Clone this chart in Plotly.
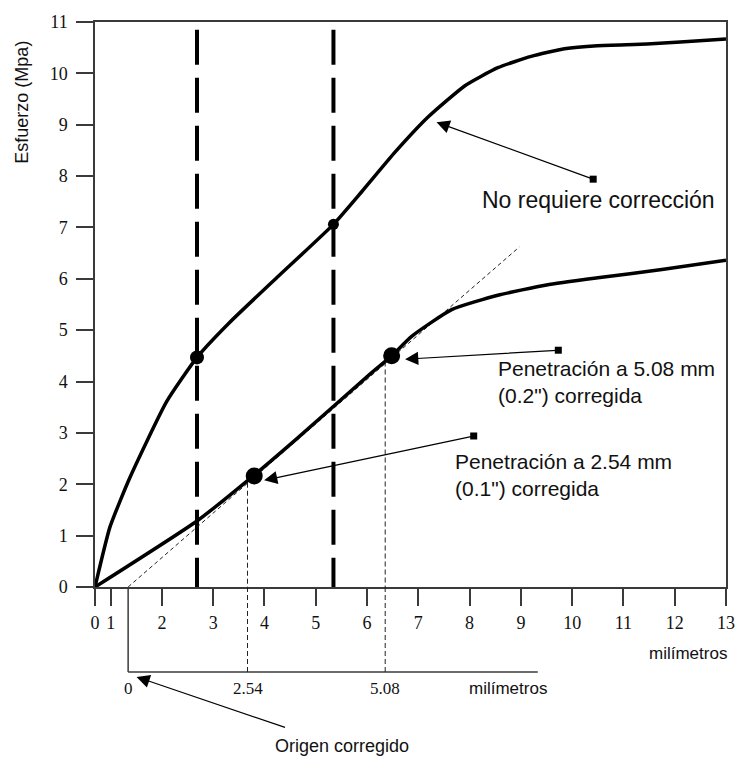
import plotly.graph_objects as go

# Axis positions of the printed tick labels (the "0" sits just left of "1")
x_tick_pos = [0.695, 1, 2, 3, 4, 5, 6, 7, 8, 9, 10, 11, 12, 13]
x_tick_text = ["0", "1", "2", "3", "4", "5", "6", "7", "8", "9", "10", "11", "12", "13"]
y_ticks = list(range(0, 12))

# Curve that needs no correction
upper_x = [0.695, 0.986, 1.374, 2.086, 2.684, 3.31, 4.28, 5.345, 5.90, 6.55,
           7.19, 7.91, 8.55, 9.20, 9.85, 10.49, 11.46, 12.11, 13.0]
upper_y = [0.0, 1.165, 2.127, 3.60, 4.47, 5.14, 6.06, 7.06, 7.70, 8.47,
           9.15, 9.76, 10.11, 10.33, 10.48, 10.54, 10.57, 10.61, 10.67]

# Curve with concave-up start (needs origin correction)
lower_x = [0.695, 2.69, 3.80, 4.61, 6.03, 6.48, 6.87, 7.65, 8.55, 9.5, 10.5, 11.75, 13.0]
lower_y = [0.0, 1.29, 2.18, 2.87, 4.12, 4.50, 4.88, 5.40, 5.68, 5.88, 6.02, 6.18, 6.36]

# Highlighted points on the curves
point_x = [2.684, 5.345, 3.80, 6.48]
point_y = [4.47, 7.06, 2.16, 4.50]

# Tangent through the straight part of the lower curve
tangent_x = [1.341, 8.97]
tangent_y = [0.0, 6.62]

# Standard penetrations (2.54 mm and 5.08 mm) on the original axis
std_pen_x = [2.684, 5.345]
std_top = 10.85

# Corrected axis
corr_origin = 1.341
corr_end = 9.33
corr_pos = [1.341, 3.669, 6.354]
corr_text = ["0", "2.54", "5.08"]
corr_curve_y = [2.03, 4.39]

# Callouts: (head x, head y, tail x, tail y)
call_none = (7.355, 9.05, 10.41, 7.94)
call_508 = (6.742, 4.435, 9.73, 4.61)
call_254 = (3.993, 2.077, 8.08, 2.94)
call_origin_head_x = 1.505
call_origin_tail_x = 4.414
call_origin_tail_y = -2.73

INK = "#111111"
AXC = "#3a3a3a"
SANS = "Liberation Sans, Arial, sans-serif"
SERIF = "Liberation Serif, Times New Roman, serif"

fig = go.Figure()

for xv in std_pen_x:
    fig.add_trace(go.Scatter(x=[xv, xv], y=[std_top, 0], mode="lines",
                             line=dict(color="black", width=4, dash="35px,13px"),
                             hoverinfo="skip", showlegend=False))

fig.add_trace(go.Scatter(x=tangent_x, y=tangent_y, mode="lines",
                         line=dict(color="#222", width=1, dash="4px,3px"),
                         hoverinfo="skip", showlegend=False))

for xv, yv in zip(corr_pos[1:], corr_curve_y):
    fig.add_trace(go.Scatter(x=[xv, xv], y=[yv, 0], mode="lines",
                             line=dict(color="#222", width=1, dash="5px,3px"),
                             hoverinfo="skip", showlegend=False))

fig.add_trace(go.Scatter(x=upper_x, y=upper_y, mode="lines",
                         line=dict(color="black", width=3.5, shape="spline", smoothing=0.5),
                         showlegend=False))
fig.add_trace(go.Scatter(x=lower_x, y=lower_y, mode="lines",
                         line=dict(color="black", width=3.5, shape="spline", smoothing=0.5),
                         showlegend=False))

fig.add_trace(go.Scatter(x=point_x, y=point_y, mode="markers",
                         marker=dict(color="black", size=[14, 11, 17, 17], opacity=1,
                                     line=dict(width=0)),
                         showlegend=False, cliponaxis=False))

# Tail dots of the callout arrows
fig.add_trace(go.Scatter(x=[call_none[2], call_508[2], call_254[2], call_origin_tail_x],
                         y=[call_none[3], call_508[3], call_254[3], call_origin_tail_y],
                         mode="markers", marker=dict(color="black", size=7, symbol="square"),
                         showlegend=False, cliponaxis=False, hoverinfo="skip"))

# Corrected axis below the chart
y_corr = -0.1505
shapes = [
    dict(type="line", xref="x", yref="paper", x0=corr_origin, x1=corr_origin, y0=0, y1=y_corr,
         line=dict(color=AXC, width=1.5)),
    dict(type="line", xref="x", yref="paper", x0=corr_origin, x1=corr_end, y0=y_corr, y1=y_corr,
         line=dict(color=AXC, width=1.5)),
]
for xv in corr_pos[1:]:
    shapes.append(dict(type="line", xref="x", yref="paper", x0=xv, x1=xv, y0=0, y1=y_corr,
                       line=dict(color="#222", width=1, dash="5px,3px")))

annotations = []
for xv, t in zip(corr_pos, corr_text):
    annotations.append(dict(x=xv, y=-0.1797, xref="x", yref="paper", text=t, showarrow=False,
                            xanchor="center", yanchor="middle",
                            font=dict(family=SERIF, size=17, color=INK)))
annotations += [
    dict(x=8.74, y=-0.1797, xref="x", yref="paper", text="milímetros", showarrow=False,
         xanchor="center", yanchor="middle", font=dict(family=SANS, size=17, color=INK)),
    dict(x=12.26, y=-0.1185, xref="x", yref="paper", text="milímetros", showarrow=False,
         xanchor="center", yanchor="middle", font=dict(family=SANS, size=17, color=INK)),
    dict(x=-0.115, y=0.858, xref="paper", yref="paper", text="Esfuerzo (Mpa)", textangle=-90,
         xanchor="center", yanchor="middle", showarrow=False,
         font=dict(family=SANS, size=18, color=INK)),
    dict(x=8.2, y=(587.3 - 195) / 52, xref="x", yref="y", text="No requiere corrección",
         xanchor="left", yanchor="middle", showarrow=False,
         font=dict(family=SANS, size=23, color=INK)),
    dict(x=8.51, y=(587.3 - 380) / 52, xref="x", yref="y",
         text="Penetración a 5.08 mm<br>(0.2\") corregida", align="left",
         xanchor="left", yanchor="middle", showarrow=False,
         font=dict(family=SANS, size=21, color=INK)),
    dict(x=7.68, y=(587.3 - 474) / 52, xref="x", yref="y",
         text="Penetración a 2.54 mm<br>(0.1\") corregida", align="left",
         xanchor="left", yanchor="middle", showarrow=False,
         font=dict(family=SANS, size=21, color=INK)),
    dict(x=4.16, y=-0.282, xref="x", yref="paper", text="Origen corregido",
         xanchor="left", yanchor="middle", showarrow=False,
         font=dict(family=SANS, size=18, color=INK)),
]

for hx, hy, tx, ty in (call_none, call_508, call_254):
    annotations.append(dict(x=hx, y=hy, ax=tx, ay=ty, xref="x", yref="y", axref="x", ayref="y",
                            text="", showarrow=True, arrowhead=2, arrowsize=2.2, arrowwidth=1.2,
                            arrowcolor="black", standoff=0, startstandoff=0))
annotations.append(dict(x=call_origin_head_x, y=-0.1592, xref="x", yref="paper",
                        ax=150, ay=51, text="", showarrow=True, arrowhead=2, arrowsize=2.2,
                        arrowwidth=1.2, arrowcolor="black", standoff=0, startstandoff=0))

fig.update_layout(
    width=747, height=766,
    margin=dict(l=95, r=18, t=16, b=179),
    paper_bgcolor="white", plot_bgcolor="white",
    shapes=shapes, annotations=annotations,
    showlegend=False,
)
fig.update_xaxes(range=[0.695, 13], tickmode="array", tickvals=x_tick_pos, ticktext=x_tick_text,
                 ticks="outside", ticklen=17, tickwidth=1.5, tickcolor=AXC,
                 showline=True, linecolor=AXC, linewidth=1.5, mirror=True,
                 showgrid=False, zeroline=False, ticklabelstandoff=2,
                 tickfont=dict(family=SERIF, size=18, color=INK))
fig.update_yaxes(range=[0, 11], tickmode="array", tickvals=y_ticks,
                 ticks="outside", ticklen=17, tickwidth=1.5, tickcolor=AXC,
                 showline=True, linecolor=AXC, linewidth=1.5, mirror=True,
                 showgrid=False, zeroline=False, ticklabelstandoff=5,
                 tickfont=dict(family=SERIF, size=18, color=INK))

fig.write_html("out.html")
